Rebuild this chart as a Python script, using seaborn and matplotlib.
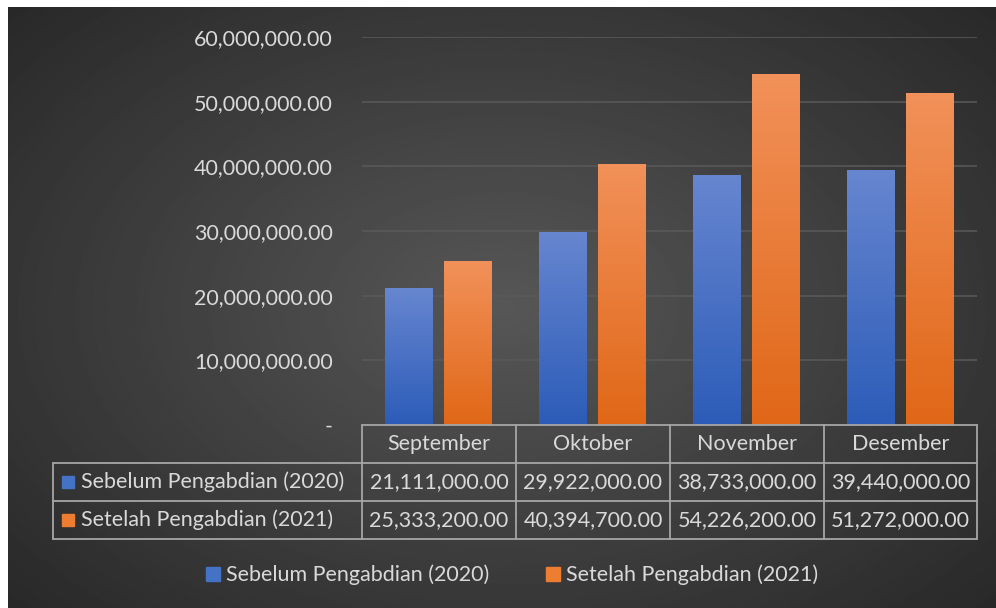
import numpy as np
import pandas as pd
import matplotlib.pyplot as plt
import seaborn as sns
from matplotlib.colors import LinearSegmentedColormap
from matplotlib.patches import Rectangle
import matplotlib.patheffects as pe

# data
months = ['September', 'Oktober', 'November', 'Desember']
series = ['Sebelum Pengabdian (2020)', 'Setelah Pengabdian (2021)']
before_2020 = [21111000.00, 29922000.00, 38733000.00, 39440000.00]
after_2021 = [25333200.00, 40394700.00, 54226200.00, 51272000.00]
yticks = [0, 10000000, 20000000, 30000000, 40000000, 50000000, 60000000]

df = pd.DataFrame({
    'Bulan': months * 2,
    'Seri': [series[0]] * 4 + [series[1]] * 4,
    'Nilai': before_2020 + after_2021,
})

blue = '#4472c4'
orange = '#ed7d31'
txt = '#d9d9d9'
fs = 15.5

sns.set_theme(style='dark')
plt.rcParams['font.family'] = ['Lato', 'DejaVu Sans']

fig = plt.figure(figsize=(9.96, 6.08), dpi=100, facecolor='white')
W, H = 996, 608

# dark radial background
bg = fig.add_axes([8 / W, 0, (W - 8) / W, (H - 7) / H])
bg.set_axis_off()
yy, xx = np.mgrid[0:1:300j, 0:1:500j]
r = np.sqrt(((xx - 0.5) / 0.7) ** 2 + ((yy - 0.5) / 0.75) ** 2)
r = np.clip(r / r.max(), 0, 1)
shade = 0.34 - 0.18 * r
bg.imshow(shade, cmap='gray', vmin=0, vmax=1, extent=[0, 1, 0, 1],
          aspect='auto', origin='lower')
bg.set_xlim(0, 1)
bg.set_ylim(0, 1)

# plot area in pixels
x0, x1 = 362, 977
y0, y1 = 425, 37
ax = fig.add_axes([x0 / W, (H - y0) / H, (x1 - x0) / W, (y0 - y1) / H])
ax.patch.set_alpha(0)

sns.barplot(data=df, x='Bulan', y='Nilai', hue='Seri', palette=[blue, orange],
            width=0.768, gap=0.1875, ax=ax, legend=False, saturation=1,
            linewidth=0, edgecolor='none')

ax.set_ylim(0, 60000000)
ax.set_xlim(-0.5, 3.5)
ax.set_yticks(yticks)
ax.set_yticklabels(['-'] + ['{:,.2f}'.format(v) for v in yticks[1:]])
ax.tick_params(axis='y', colors=txt, labelsize=fs, length=0, pad=21)
ax.tick_params(axis='x', length=0, labelbottom=False)
ax.set_xlabel('')
ax.set_ylabel('')
for s in ax.spines.values():
    s.set_visible(False)
for v in yticks[1:]:
    ax.axhline(v, color='#5a5a5a', lw=1.1, zorder=0)

# gradient fill on bars
cm_blue = LinearSegmentedColormap.from_list('b', ['#2c5cb8', '#6786d0'])
cm_orange = LinearSegmentedColormap.from_list('o', ['#e06717', '#f2915a'])
grad = np.linspace(0, 1, 256).reshape(-1, 1)
for i, p in enumerate(ax.patches):
    if p.get_height() == 0:
        continue
    cmap = cm_blue if i < 4 else cm_orange
    bx, by = p.get_x(), p.get_y()
    bw, bh = p.get_width(), p.get_height()
    p.set_path_effects([pe.SimplePatchShadow(offset=(0, 0), shadow_rgbFace='black', alpha=0.35),
                        pe.Normal()])
    im = ax.imshow(grad, cmap=cmap, extent=[bx, bx + bw, by, by + bh],
                   aspect='auto', origin='lower', zorder=3)
    im.set_clip_path(p)
ax.set_xlim(-0.5, 3.5)
ax.set_ylim(0, 60000000)

# data table under the plot
cols = [362, 516, 670, 824, 977]
rows = [425, 463, 501, 539]
left = 53
line_c = '#a6a6a6'


def fx(px):
    return px / W


def fy(py):
    return 1 - py / H


def hline(xa, xb, y):
    fig.add_artist(plt.Line2D([fx(xa), fx(xb)], [fy(y), fy(y)], color=line_c, lw=1.3))


def vline(x, ya, yb):
    fig.add_artist(plt.Line2D([fx(x), fx(x)], [fy(ya), fy(yb)], color=line_c, lw=1.3))


hline(cols[0], cols[-1], rows[0])
hline(left, cols[-1], rows[1])
hline(left, cols[-1], rows[2])
hline(left, cols[-1], rows[3])
vline(left, rows[1], rows[3])
for c in cols:
    vline(c, rows[0], rows[3])

for j, m in enumerate(months):
    cx = (cols[j] + cols[j + 1]) / 2
    fig.text(fx(cx), fy((rows[0] + rows[1]) / 2), m, color=txt, fontsize=fs,
             ha='center', va='center')

for k, (name, vals, col) in enumerate(zip(series, [before_2020, after_2021], [blue, orange])):
    cy = (rows[k + 1] + rows[k + 2]) / 2
    fig.add_artist(Rectangle((fx(62), fy(cy + 6)), 12 / W, 12 / H, color=col,
                             transform=fig.transFigure))
    fig.text(fx(81), fy(cy), name, color=txt, fontsize=fs, ha='left', va='center')
    for j, v in enumerate(vals):
        cx = (cols[j] + cols[j + 1]) / 2
        fig.text(fx(cx), fy(cy), '{:,.2f}'.format(v), color=txt, fontsize=fs,
                 ha='center', va='center')

# legend at the bottom
handles = [Rectangle((0, 0), 1, 1, color=blue), Rectangle((0, 0), 1, 1, color=orange)]
fig.legend(handles, series, loc='center', bbox_to_anchor=(fx(512), fy(575)), ncol=2,
           frameon=False, labelcolor=txt, fontsize=fs, handlelength=0.65,
           handleheight=0.65, handletextpad=0.3, columnspacing=2.6)

fig.savefig('out.png', dpi=100, facecolor='white')
